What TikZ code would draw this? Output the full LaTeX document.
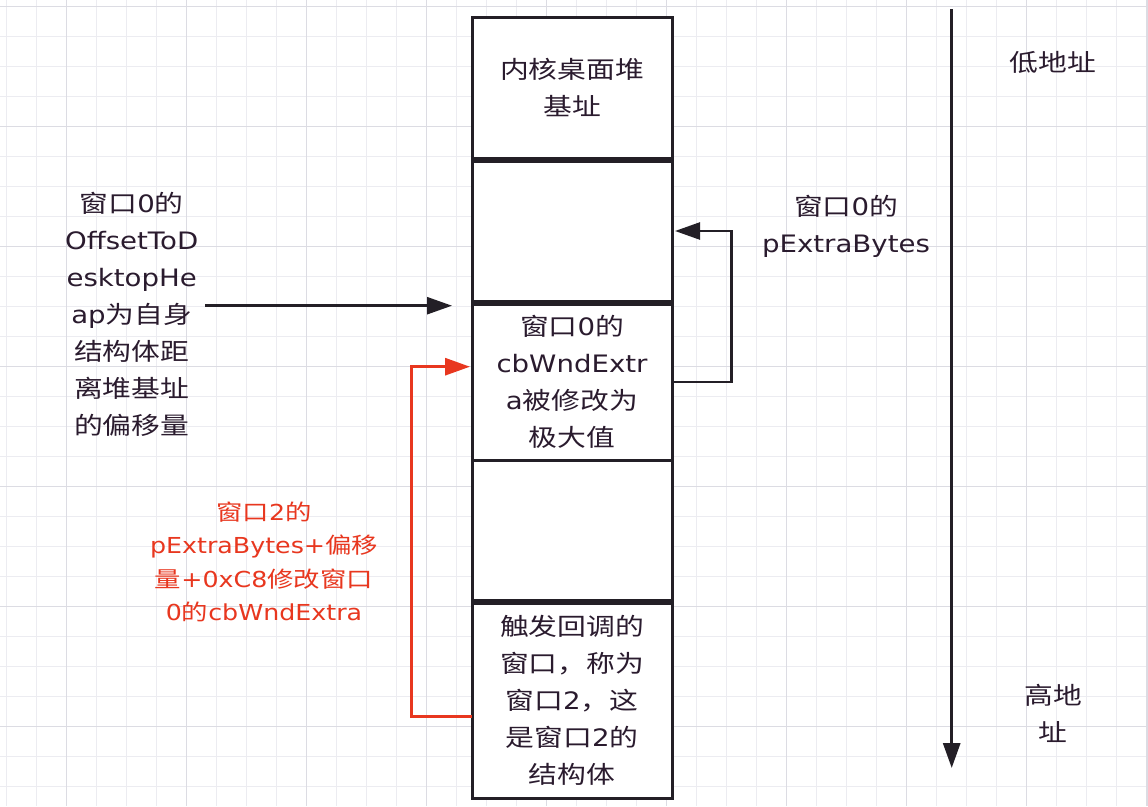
\documentclass[tikz,border=0pt]{standalone}
\usepackage{fontspec}
\usetikzlibrary{arrows.meta,calc}
\newfontfamily\cjkf[FakeStretch=1.2]{Noto Sans CJK SC}
\newfontfamily\latf[FakeStretch=1.15]{DejaVu Sans}
\newcommand\myLat[1]{{\latf #1}}
\definecolor{txt}{HTML}{2A1B2E}
\definecolor{redc}{HTML}{E8371F}
\definecolor{gridminor}{HTML}{ECECF1}
\definecolor{gridmajor}{HTML}{DCDCE3}
\definecolor{dk}{HTML}{231F26}
\tikzset{
  box/.style={draw=dk, line width=3pt, fill=white, minimum width=200pt, inner sep=0pt,
    align=center, text=txt, font=\fontsize{24}{37}\selectfont\cjkf},
  lbl/.style={inner sep=0pt, align=center, text=txt, font=\fontsize{24}{37}\selectfont\cjkf},
  rlbl/.style={inner sep=0pt, align=center, text=redc, font=\fontsize{22}{33.5}\selectfont\cjkf},
  blk/.style={draw=dk, line width=2.5pt, -{Triangle[length=25pt,width=17pt]}},
  redarr/.style={draw=redc, line width=3pt, -{Triangle[length=25pt,width=17pt]}},
}
\begin{document}
\begin{tikzpicture}[x=1pt,y=-1pt]
\fill[white] (0,0) rectangle (1148,806);
\useasboundingbox (0,0) rectangle (1148,806);
% grid
\foreach \i in {0,...,38} {
  \draw[gridminor, line width=1pt] (6.7+30*\i,0) -- (6.7+30*\i,806);
}
\foreach \i in {0,...,26} {
  \draw[gridminor, line width=1pt] (0,6.7+30*\i) -- (1148,6.7+30*\i);
}
\foreach \i in {0,...,9} {
  \draw[gridmajor, line width=1pt] (66.7+120*\i,0) -- (66.7+120*\i,806);
}
\foreach \i in {0,...,6} {
  \draw[gridmajor, line width=1pt] (0,6.7+120*\i) -- (1148,6.7+120*\i);
}
\draw[gridmajor, line width=1pt] (1147,0) -- (1147,806);

% memory boxes
\node[box, minimum height=141pt] (b1) at (572,87.5) {内核桌面堆\\基址};
\node[box, minimum height=140pt] (b2) at (572,231) {};
\node[box, minimum height=156pt] (b3) at (572,382) {窗口\myLat{0}的\\\myLat{cbWndExtr}\\\myLat{a}被修改为\\极大值};
\node[box, minimum height=140pt] (b4) at (572,530) {};
\node[box, minimum height=195pt] (b5) at (572,700.5) {触发回调的\\窗口，称为\\窗口\myLat{2}，这\\是窗口\myLat{2}的\\结构体};

% labels
\node[lbl] (lt) at (131.7,314) {窗口\myLat{0}的\\\myLat{OffsetToD}\\\myLat{esktopHe}\\\myLat{ap}为自身\\结构体距\\离堆基址\\的偏移量};
\node[lbl] (pe) at (846,226.5) {窗口\myLat{0}的\\\myLat{pExtraBytes}};
\node[lbl] (low) at (1053,62) {低地址};
\node[lbl] (high) at (1053,713.5) {高地\\址};
\node[rlbl] (rt) at (264,562) {窗口\myLat{2}的\\\myLat{pExtraBytes+}偏移\\量\myLat{+0xC8}修改窗口\\\myLat{0}的\myLat{cbWndExtra}};

% connectors
\coordinate (la) at (205,305.7);
\coordinate (lb) at (452,305.7);
\draw[blk] (la) -- (lb);

\coordinate (rc) at (731.7,231);
\coordinate (rtip) at (675,231);
\draw[blk] (b3.east) -| (rc) -- (rtip);

\coordinate (red1) at (472,716.7);
\coordinate (red2) at (411.7,366.7);
\coordinate (redtip) at (470,366.7);
\draw[redarr] (red1) -| (red2) -- (redtip);

\coordinate (vtop) at (951.7,9);
\coordinate (vbot) at (951.7,768);
\draw[draw=dk, line width=3pt, -{Triangle[length=25pt,width=17pt]}] (vtop) -- (vbot);
\end{tikzpicture}
\end{document}
